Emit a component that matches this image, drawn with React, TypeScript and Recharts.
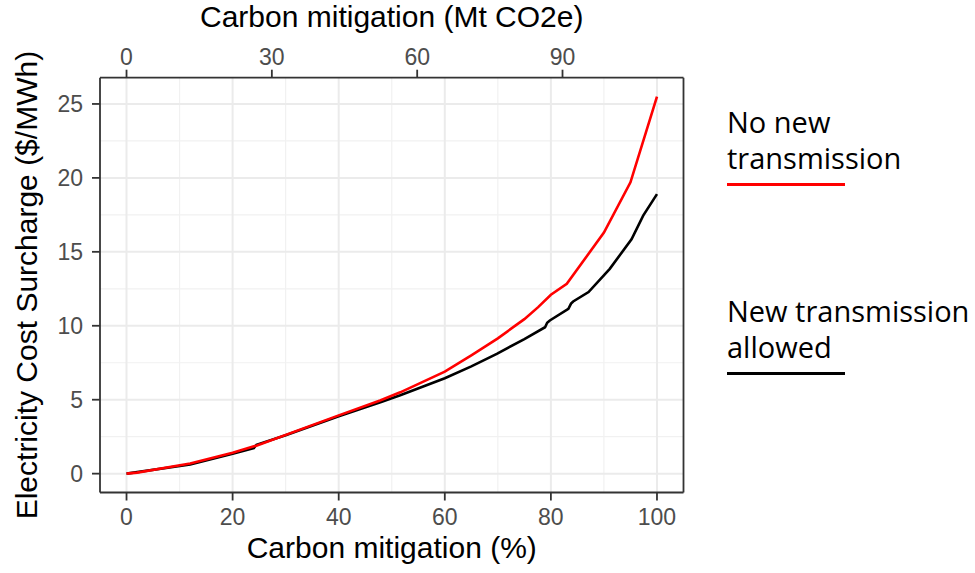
import { LineChart, Line, XAxis, YAxis, CartesianGrid, Legend } from "recharts";

// Cost surcharge ($/MWh) vs. share of carbon mitigated (%)
const pctNoTx = [0, 2, 12, 20, 24.6, 40, 47.8, 51.6, 60, 65, 70, 75, 77.6, 80, 83, 90, 95, 100];
const costNoTx = [0, 0.07, 0.68, 1.42, 1.91, 3.94, 4.95, 5.5, 6.9, 8.0, 9.15, 10.45, 11.26, 12.1, 12.84, 16.3, 19.7, 25.5];

const pctTx = [0, 12, 20, 24, 24.5, 30, 40, 48, 51.6, 60, 65, 69.8, 75, 78.9, 79.3, 79.8, 83.3, 83.8, 84.2, 87.1, 91.1, 95.2, 97.4, 100];
const costTx = [0, 0.62, 1.35, 1.72, 1.95, 2.6, 3.88, 4.85, 5.3, 6.45, 7.25, 8.1, 9.1, 9.9, 10.2, 10.36, 11.15, 11.5, 11.64, 12.28, 13.85, 15.85, 17.45, 18.9];

const pctTicks = [0, 20, 40, 60, 80, 100];
const pctMinor = [10, 30, 50, 70, 90];
const costTicks = [0, 5, 10, 15, 20, 25];
const costMinor = [2.5, 7.5, 12.5, 17.5, 22.5];
const mtTicks = [0, 30, 60, 90];
const totalMt = 109.5; // Mt CO2e at 100 % mitigation

const legendOrder = ["No new transmission", "New transmission allowed"];
const legendLines: Record<string, string[]> = {
  "No new transmission": ["No new", "transmission"],
  "New transmission allowed": ["New transmission", "allowed"],
};

const noTxData = pctNoTx.map((x, i) => ({ x, y: costNoTx[i] }));
const txData = pctTx.map((x, i) => ({ x, y: costTx[i] }));

// ggplot-style 5% expansion
const pctDomain = [-5, 105];
const costMax = Math.max(...costNoTx, ...costTx);
const costDomain = [-0.05 * costMax, costMax * 1.05];
const mtDomain = pctDomain.map((v) => (v * totalMt) / 100);

const FONT = "'Liberation Sans', Arial, sans-serif";
const tickStyle = { fontSize: 23, fill: "#4d4d4d", fontFamily: FONT };
const axisStroke = { stroke: "#333333", strokeWidth: 1.8 };
const titleStyle = { fontSize: 30, fill: "#000", fontFamily: FONT };

function SideLegend({ payload }: any) {
  const items = [...(payload || [])].sort(
    (a, b) => legendOrder.indexOf(a.value) - legendOrder.indexOf(b.value)
  );
  return (
    <div style={{ fontFamily: "'Open Sans', sans-serif", fontSize: 29, lineHeight: "36px", color: "#000" }}>
      {items.map((item, i) => (
        <div key={item.value} style={{ marginTop: i === 0 ? 0 : 107 }}>
          {(legendLines[item.value] || [item.value]).map((t) => (
            <div key={t} style={{ whiteSpace: "nowrap" }}>{t}</div>
          ))}
          <div style={{ marginTop: 7, width: 118, height: 3, background: item.color }} />
        </div>
      ))}
    </div>
  );
}

export default function App() {
  return (
    <div style={{ position: "absolute", left: 0, top: 0, background: "#fff" }}>
      <LineChart width={975} height={573} margin={{ top: 0, right: 290.5, bottom: 0, left: 0 }}>
        <CartesianGrid stroke="#f1f1f1" strokeWidth={1.2} horizontalValues={costMinor} verticalValues={pctMinor} />
        <CartesianGrid stroke="#ebebeb" strokeWidth={2} horizontalValues={costTicks} verticalValues={pctTicks} />
        <XAxis
          dataKey="x"
          type="number"
          domain={pctDomain}
          ticks={pctTicks}
          allowDataOverflow
          height={80.5}
          tick={tickStyle}
          tickSize={8}
          tickMargin={8}
          axisLine={axisStroke}
          tickLine={axisStroke}
          label={{ value: "Carbon mitigation (%)", position: "insideBottom", offset: 15, ...titleStyle }}
        />
        <XAxis
          xAxisId="top"
          orientation="top"
          dataKey="x"
          type="number"
          domain={mtDomain}
          ticks={mtTicks}
          allowDataOverflow
          height={77.7}
          tick={tickStyle}
          tickSize={8}
          tickMargin={5}
          axisLine={axisStroke}
          tickLine={axisStroke}
          label={{ value: "Carbon mitigation (Mt CO2e)", position: "insideTop", offset: 6, ...titleStyle }}
        />
        <YAxis
          type="number"
          domain={costDomain}
          ticks={costTicks}
          allowDataOverflow
          width={100}
          tick={tickStyle}
          tickSize={8}
          tickMargin={9}
          axisLine={axisStroke}
          tickLine={axisStroke}
          label={{
            value: "Electricity Cost Surcharge ($/MWh)",
            angle: -90,
            position: "insideLeft",
            offset: 26,
            style: { textAnchor: "middle" },
            ...titleStyle,
          }}
        />
        <YAxis
          yAxisId="right"
          orientation="right"
          type="number"
          domain={costDomain}
          ticks={costTicks}
          allowDataOverflow
          width={1}
          tick={false}
          tickLine={false}
          axisLine={axisStroke}
        />
        <Line
          data={txData}
          dataKey="y"
          name="New transmission allowed"
          type="linear"
          stroke="#000000"
          strokeWidth={2.6}
          dot={false}
          isAnimationActive={false}
        />
        <Line
          data={noTxData}
          dataKey="y"
          name="No new transmission"
          type="linear"
          stroke="#ff0000"
          strokeWidth={2.6}
          dot={false}
          isAnimationActive={false}
        />
        <Legend
          layout="vertical"
          align="center"
          verticalAlign="middle"
          content={<SideLegend />}
          wrapperStyle={{ left: 727, top: 103.75, width: 248, height: "auto" }}
        />
      </LineChart>
    </div>
  );
}
